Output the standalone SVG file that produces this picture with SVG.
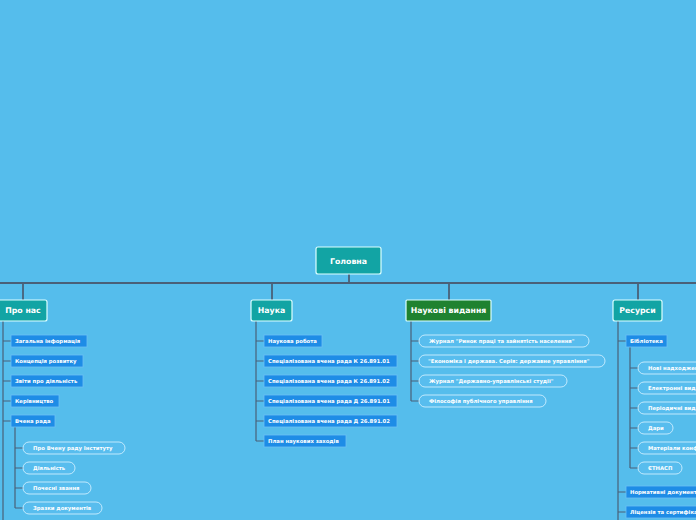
<svg xmlns="http://www.w3.org/2000/svg" width="696" height="520" viewBox="0 0 696 520">
<style>
text{font-family:"DejaVu Sans",sans-serif;font-weight:bold;fill:#fff}
.top{fill:#12a4a4;stroke:#dff;stroke-width:1.2}
.t{font-size:7.8px}
.s{font-size:5.3px}
.box{fill:#1e8ce6;stroke:#6cc0f5;stroke-width:0.8}
.pill{fill:#58bdee;stroke:#cdeeff;stroke-width:0.9}
.ln{stroke:#4a6078;stroke-width:1.2;fill:none}
</style>
<rect width="696" height="520" fill="#55bdec"/>
<g id="connectors" class="ln">
<path d="M0 283H696M349 274V283M23 283V300M272 283V300M449 283V300M638 283V300" stroke-width="1.8"/>
<path d="M3 321V520M3 341H11M3 361H11M3 381H11M3 401H11M3 421H11"/>
<path d="M15 427V508M15 448H23M15 468H23M15 488H23M15 508H23"/>
<path d="M256 321V441M256 341H264M256 361H264M256 381H264M256 401H264M256 421H264M256 441H264"/>
<path d="M411 321V401M411 341H419M411 361H419M411 381H419M411 401H419"/>
<path d="M618 321V520M618 341H626M618 492H626M618 512H626"/>
<path d="M630 347V468M630 368H638M630 388H638M630 408H638M630 428H638M630 448H638M630 468H638"/>
</g>
<g id="root"><rect x="316" y="247" width="65" height="27" rx="2" class="top" fill="#1697a0"/><text x="348.5" y="263.5" text-anchor="middle" class="t">Головна</text></g>
<g id="pronas"><rect x="-2" y="300" width="49" height="21" rx="2" class="top"/><text x="23" y="313" text-anchor="middle" class="t">Про нас</text></g>
<g id="nauka"><rect x="251" y="300" width="41" height="21" rx="2" class="top"/><text x="271.5" y="313" text-anchor="middle" class="t">Наука</text></g>
<g id="vydannia"><rect x="406" y="300" width="85" height="21" rx="1" class="top" style="fill:#1f8230"/><text x="448.5" y="313" text-anchor="middle" class="t">Наукові видання</text></g>
<g id="resursy"><rect x="613" y="300" width="49" height="21" rx="2" class="top"/><text x="637.5" y="313" text-anchor="middle" class="t">Ресурси</text></g>
<g id="pronas-children">
<rect x="11" y="335" width="76" height="12" class="box"/><text x="15" y="343" class="s">Загальна інформація</text>
<rect x="11" y="355" width="72" height="12" class="box"/><text x="15" y="363" class="s">Концепція розвитку</text>
<rect x="11" y="375" width="72" height="12" class="box"/><text x="15" y="383" class="s">Звіти про діяльність</text>
<rect x="11" y="395" width="48" height="12" class="box"/><text x="15" y="403" class="s">Керівництво</text>
<rect x="11" y="415" width="44" height="12" class="box"/><text x="15" y="423" class="s">Вчена рада</text>
<rect x="23" y="442" width="102" height="12" rx="6" class="pill"/><text x="33" y="450" class="s">Про Вчену раду Інституту</text>
<rect x="23" y="462" width="52" height="12" rx="6" class="pill"/><text x="33" y="470" class="s">Діяльність</text>
<rect x="23" y="482" width="68" height="12" rx="6" class="pill"/><text x="33" y="490" class="s">Почесні звання</text>
<rect x="23" y="502" width="79" height="12" rx="6" class="pill"/><text x="33" y="510" class="s">Зразки документів</text>
</g>
<g id="nauka-children">
<rect x="264" y="335" width="58" height="12" class="box"/><text x="268" y="343" class="s">Наукова робота</text>
<rect x="264" y="355" width="133" height="12" class="box"/><text x="268" y="363" class="s">Спеціалізована вчена рада К 26.891.01</text>
<rect x="264" y="375" width="133" height="12" class="box"/><text x="268" y="383" class="s">Спеціалізована вчена рада К 26.891.02</text>
<rect x="264" y="395" width="133" height="12" class="box"/><text x="268" y="403" class="s">Спеціалізована вчена рада Д 26.891.01</text>
<rect x="264" y="415" width="133" height="12" class="box"/><text x="268" y="423" class="s">Спеціалізована вчена рада Д 26.891.02</text>
<rect x="264" y="435" width="82" height="12" class="box"/><text x="268" y="443" class="s">План наукових заходів</text>
</g>
<g id="vydannia-children">
<rect x="419" y="335" width="170" height="12" rx="6" class="pill"/><text x="429" y="343" class="s">Журнал "Ринок праці та зайнятість населення"</text>
<rect x="419" y="355" width="186" height="12" rx="6" class="pill"/><text x="428" y="363" class="s">"Економіка і держава. Серія: державне управління"</text>
<rect x="419" y="375" width="148" height="12" rx="6" class="pill"/><text x="429" y="383" class="s">Журнал "Державно-управлінські студії"</text>
<rect x="419" y="395" width="127" height="12" rx="6" class="pill"/><text x="429" y="403" class="s">Філософія публічного управління</text>
</g>
<g id="resursy-children">
<rect x="626" y="335" width="41" height="12" class="box"/><text x="630" y="343" class="s">Бібліотека</text>
<rect x="638" y="362" width="80" height="12" rx="6" class="pill"/><text x="648" y="370" class="s">Нові надходження</text>
<rect x="638" y="382" width="80" height="12" rx="6" class="pill"/><text x="648" y="390" class="s">Електронні видання</text>
<rect x="638" y="402" width="80" height="12" rx="6" class="pill"/><text x="648" y="410" class="s">Періодичні видання</text>
<rect x="638" y="422" width="35" height="12" rx="6" class="pill"/><text x="648" y="430" class="s">Дари</text>
<rect x="638" y="442" width="80" height="12" rx="6" class="pill"/><text x="648" y="450" class="s">Матеріали конференцій</text>
<rect x="638" y="462" width="44" height="12" rx="6" class="pill"/><text x="648" y="470" class="s">ЄТНАСП</text>
<rect x="626" y="486" width="80" height="12" class="box"/><text x="630" y="494" class="s">Нормативні документи</text>
<rect x="626" y="506" width="80" height="12" class="box"/><text x="630" y="514" class="s">Ліцензія та сертифікати</text>
</g>
</svg>
